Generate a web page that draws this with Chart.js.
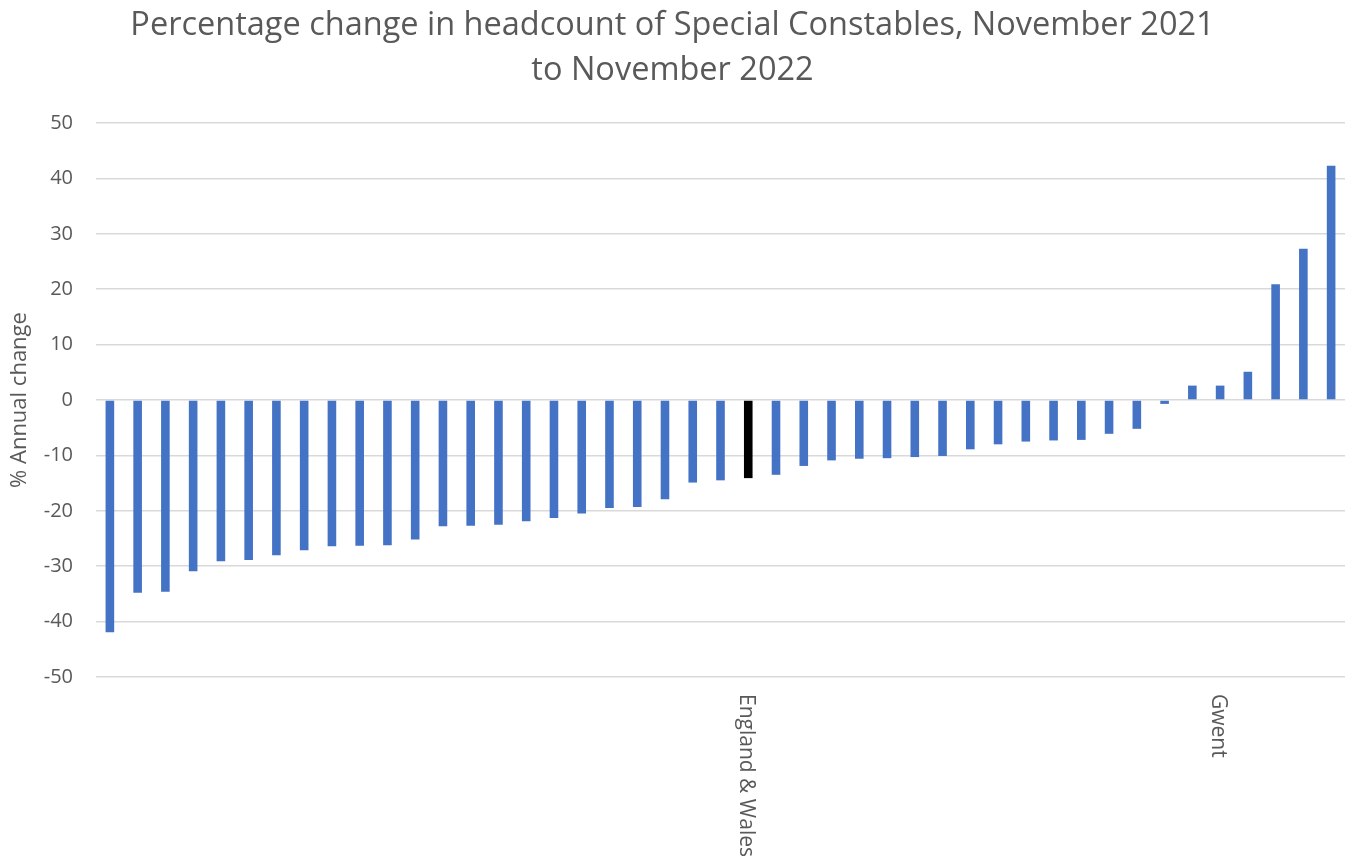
<!DOCTYPE html>
<html>
<head>
<meta charset="utf-8">
<script src="https://cdn.jsdelivr.net/npm/chart.js@4"></script>
<style>
  html, body { margin: 0; padding: 0; background: #ffffff; }
  canvas { display: block; }
</style>
</head>
<body>
<canvas id="chart" width="1354" height="858"></canvas>
<script>
// Forces, ordered by annual % change in Special Constable headcount.
// Only the national total and Gwent carry a visible label.
const categories = [
  '', '', '', '', '', '', '', '', '', '',
  '', '', '', '', '', '', '', '', '', '',
  '', '', '', 'England & Wales', '', '', '', '', '', '',
  '', '', '', '', '', '', '', '', '', '',
  'Gwent', '', '', '', ''
];

const annualChange = [
  -41.9, -34.8, -34.6, -30.9, -29.1, -28.9, -28.0, -27.1, -26.4, -26.3,
  -26.2, -25.2, -22.8, -22.7, -22.5, -21.9, -21.3, -20.5, -19.5, -19.3,
  -17.9, -14.9, -14.5, -14.1, -13.5, -11.9, -10.9, -10.6, -10.5, -10.3,
  -10.1, -8.9, -8.0, -7.5, -7.3, -7.2, -6.1, -5.2, -0.7, 2.6,
  2.6, 5.1, 20.9, 27.3, 42.3
];

const yMin = -50;
const yMax = 50;
const yStep = 10;

const titleLines = [
  'Percentage change in headcount of Special Constables, November 2021',
  'to November 2022'
];
const yAxisTitle = '% Annual change';
const totalLabel = 'England & Wales';

const FONT = '"Open Sans", "DejaVu Sans", sans-serif';
const TEXT = '#595959';
const BLUE = '#4472C4';
const BLACK = '#000000';

const barColours = categories.map(c => c === totalLabel ? BLACK : BLUE);

// Category labels are written downward (rotated clockwise) beneath the plot.
const downwardLabels = {
  id: 'downwardLabels',
  afterDraw(chart) {
    const xs = chart.scales.x;
    const ctx = chart.ctx;
    ctx.save();
    ctx.font = '21px ' + FONT;
    ctx.fillStyle = TEXT;
    ctx.textAlign = 'left';
    ctx.textBaseline = 'middle';
    categories.forEach((label, i) => {
      if (!label) return;
      const px = xs.getPixelForValue(i);
      ctx.save();
      ctx.translate(px - 2, chart.chartArea.bottom + 17);
      ctx.rotate(Math.PI / 2);
      ctx.fillText(label, 0, 0);
      ctx.restore();
    });
    ctx.restore();
  }
};

new Chart(document.getElementById('chart'), {
  type: 'bar',
  data: {
    labels: categories,
    datasets: [{
      data: annualChange,
      backgroundColor: barColours,
      borderWidth: 0,
      categoryPercentage: 1.0,
      barPercentage: 0.31
    }]
  },
  options: {
    responsive: false,
    animation: false,
    devicePixelRatio: 1,
    layout: { padding: { left: 0, right: 9, top: 0, bottom: 0 } },
    plugins: {
      legend: { display: false },
      tooltip: { enabled: false },
      title: {
        display: true,
        text: titleLines,
        color: TEXT,
        font: { family: FONT, size: 32.5, weight: 'normal', lineHeight: 1.385 },
        padding: { top: 3, bottom: 30 }
      }
    },
    scales: {
      x: {
        grid: { display: false },
        border: { display: false },
        ticks: { display: false },
        afterFit(scale) { scale.height = 181; }
      },
      y: {
        min: yMin,
        max: yMax,
        ticks: {
          stepSize: yStep,
          color: TEXT,
          font: { family: FONT, size: 20 },
          padding: 23
        },
        grid: {
          color: '#d9d9d9',
          lineWidth: 1.5,
          drawTicks: false
        },
        border: { display: false },
        title: {
          display: true,
          text: yAxisTitle,
          color: TEXT,
          font: { family: FONT, size: 22 },
          padding: { top: 7, bottom: 0 }
        },
        afterFit(scale) { scale.width = 96; }
      }
    }
  },
  plugins: [downwardLabels]
});
</script>
</body>
</html>
